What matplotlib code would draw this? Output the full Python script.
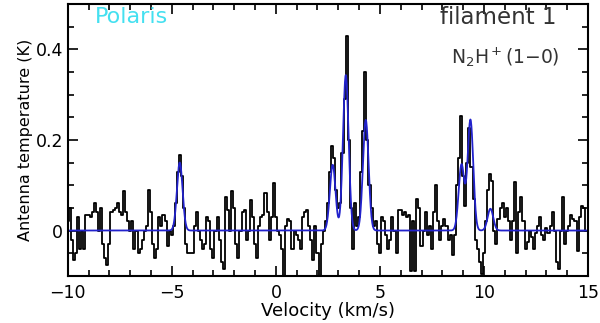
import numpy as np
import matplotlib
matplotlib.use('Agg')
import matplotlib.pyplot as plt
from matplotlib.ticker import MultipleLocator

# observed spectrum, 0.1 km/s channels starting at -10 km/s (one row per km/s)
v_start = -10.0
chan_width = 0.1
t_ant = [
    0.02, 0.05, -0.02, -0.065, -0.05, 0.03, -0.04, 0.0, -0.04, 0.035,
    0.035, 0.03, 0.04, 0.06, 0.04, 0.0, 0.05, -0.03, -0.06, -0.075,
    -0.03, 0.04, 0.045, 0.05, 0.06, 0.04, 0.035, 0.087, 0.04, 0.02,
    0.0, 0.02, -0.04, 0.0, -0.05, -0.04, -0.02, 0.0, 0.01, 0.09,
    0.04, -0.03, -0.06, -0.04, 0.03, 0.01, 0.035, 0.02, -0.035, 0.0,
    -0.01, 0.01, 0.06, 0.13, 0.167, 0.12, 0.05, -0.03, -0.05, -0.05,
    -0.05, 0.01, 0.04, 0.0, -0.02, -0.04, -0.03, 0.03, 0.02, -0.04,
    -0.06, 0.0, 0.03, -0.02, -0.07, -0.085, 0.075, 0.045, 0.0, 0.087,
    0.05, -0.03, -0.06, 0.0, 0.04, 0.045, -0.02, 0.0, 0.068, 0.03,
    -0.03, -0.06, 0.01, 0.03, 0.035, 0.083, 0.04, -0.02, 0.03, 0.105,
    0.03, 0.0, -0.01, -0.04, -0.1, 0.01, 0.025, 0.02, -0.04, 0.0,
    -0.01, -0.02, -0.04, 0.03, 0.04, 0.045, 0.01, -0.02, -0.065, 0.01,
    -0.05, -0.1, -0.03, 0.0, 0.02, 0.06, 0.13, 0.187, 0.16, 0.09,
    0.05, 0.06, 0.17, 0.29, 0.43, 0.2, 0.05, -0.04, 0.06, 0.01,
    0.03, 0.13, 0.22, 0.35, 0.2, 0.1, 0.05, 0.01, 0.02, -0.03,
    -0.05, 0.03, 0.02, -0.01, -0.04, -0.02, 0.03, 0.0, -0.05, 0.045,
    0.045, 0.035, 0.04, 0.03, 0.035, -0.09, 0.02, -0.09, 0.07, 0.05,
    -0.035, 0.0, 0.04, -0.01, 0.01, -0.04, 0.04, 0.1, 0.02, -0.02,
    0.01, 0.025, 0.01, -0.02, -0.01, -0.055, -0.01, 0.1, 0.16, 0.253,
    0.12, 0.055, 0.15, 0.227, 0.14, 0.07, -0.02, -0.04, -0.07, -0.095,
    -0.05, 0.02, 0.09, 0.125, 0.11, 0.0, -0.03, 0.025, 0.05, 0.06,
    0.03, 0.05, 0.02, -0.02, 0.02, 0.106, -0.05, 0.04, 0.075, 0.02,
    -0.04, -0.025, 0.0, -0.015, -0.04, -0.005, 0.01, 0.03, -0.01, -0.02,
    0.005, -0.005, 0.01, 0.04, 0.0, -0.07, -0.085, 0.0, 0.075, -0.03,
    0.0, 0.01, 0.035, 0.025, 0.02, -0.045, 0.03, 0.055, 0.05, 0.0,
]

# hyperfine fit: component centres (km/s), peak temps (K), common width
hfs_v = [-4.62, 2.73, 3.36, 4.32, 8.92, 9.35, 10.31]
hfs_t = [0.15, 0.145, 0.343, 0.244, 0.145, 0.244, 0.048]
hfs_sigma = 0.135

vel = v_start + chan_width * np.arange(len(t_ant))
vfit = np.linspace(-10, 15, 2000)
tfit = np.zeros_like(vfit)
for c, a in zip(hfs_v, hfs_t):
    tfit += a * np.exp(-0.5 * ((vfit - c) / hfs_sigma) ** 2)

fig = plt.figure(figsize=(6, 3.23), dpi=100)
ax = fig.add_axes([0.113, 0.146, 0.867, 0.842])

ax.step(vel, t_ant, where='mid', color='black', lw=1.3)
ax.plot(vfit, tfit, color='#2222cc', lw=1.3)

ax.set_xlim(-10, 15)
ax.set_ylim(-0.1, 0.5)
ax.xaxis.set_major_locator(MultipleLocator(5))
ax.xaxis.set_minor_locator(MultipleLocator(1))
ax.set_yticks([0, 0.2, 0.4])
ax.set_yticklabels(['0', '0.2', '0.4'])
ax.yaxis.set_minor_locator(MultipleLocator(0.05))
ax.tick_params(which='both', direction='in', top=True, right=True, width=1.2, labelsize=12.5)
ax.tick_params(which='major', length=7)
ax.tick_params(which='minor', length=4)
ax.tick_params(axis='x', pad=6)
for s in ax.spines.values():
    s.set_linewidth(1.5)

ax.set_xlabel('Velocity (km/s)', fontsize=13, labelpad=0)
ax.set_ylabel('Antenna temperature (K)', fontsize=11.5, labelpad=2)

ax.text(0.123, 0.95, 'Polaris', transform=ax.transAxes, color='#44e0f0',
        fontsize=16, ha='center', va='center')
ax.text(0.94, 0.95, 'filament 1', transform=ax.transAxes, color='#333333',
        fontsize=16.5, ha='right', va='center')
ax.text(0.945, 0.805, r'N$_2$H$^+$(1$-$0)', transform=ax.transAxes, color='#333333',
        fontsize=13.5, ha='right', va='center')

fig.savefig('out.png', dpi=100)
